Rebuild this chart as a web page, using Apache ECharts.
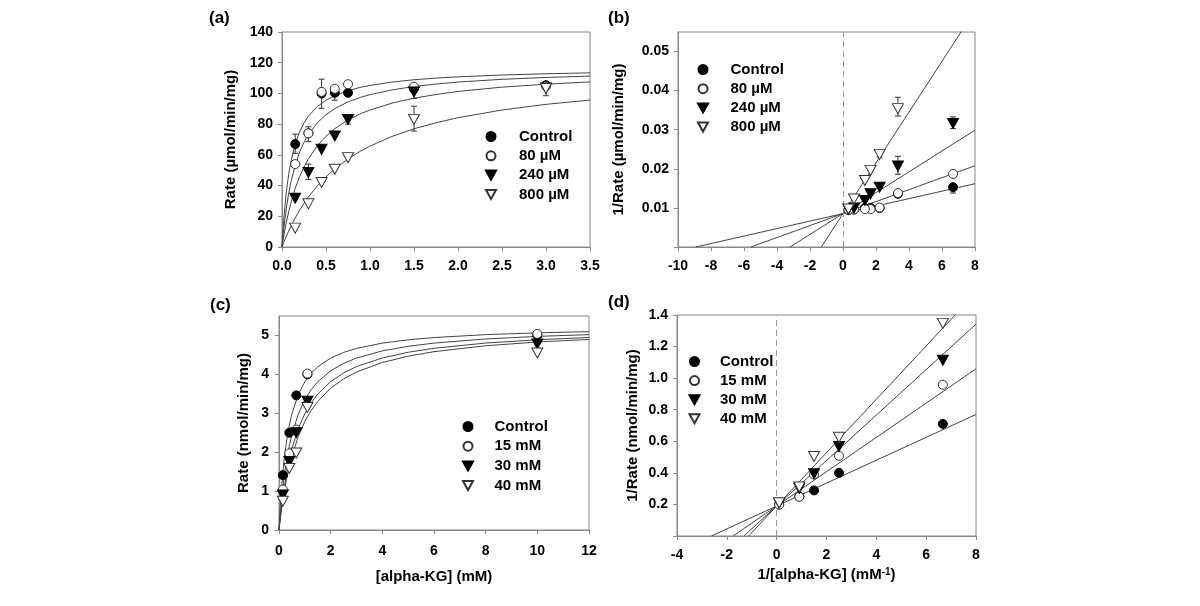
<!DOCTYPE html>
<html><head><meta charset="utf-8">
<script src="https://cdn.jsdelivr.net/npm/echarts@6/dist/echarts.min.js"></script>
<style>html,body{margin:0;padding:0;background:#fff}#c{width:1200px;height:606px}</style>
</head><body><div id="c"></div>
<script>
// ---------- Panel (a): rate vs [substrate], inhibitor µM ----------
const aX = [0.15, 0.3, 0.45, 0.6, 0.75, 1.5, 3.0];
const aControl = [67, 74, 100, 100.4, 100.4, 103, 105.4];
const a80 = [54, 74, 101, 103, 106, 104.3, 104.7];
const a240 = [31.8, 48.5, 63.6, 72.3, 83.1, 101, 103.5];
const a800 = [12.3, 28.1, 42, 50.6, 58.2, 83.1, 103.2];
const aErr = [[0.15, 61, 73.5], [0.3, 68.6, 78.3], [0.45, 90.3, 109.3], [0.6, 95.6, 104], [0.75, 80, 85.9],
  [1.5, 96.7, 104], [1.5, 75.5, 91.7], [3.0, 98.5, 106], [0.3, 44, 54]];
// fitted curves
const aFitX = [0, 0.0125, 0.025, 0.05, 0.075, 0.1, 0.15, 0.2, 0.25, 0.3, 0.4, 0.5, 0.6, 0.75, 0.9, 1.0, 1.25, 1.5, 1.75, 2.0, 2.5, 3.0, 3.5];
const aFitControl = [0, 11.7, 21.4, 36.1, 46.9, 55.2, 67.0, 75.0, 80.8, 85.2, 91.4, 95.6, 98.6, 101.8, 104.1, 105.2, 107.4, 108.9, 110.0, 110.8, 112.0, 112.8, 113.4];
const aFit80 = [0, 7.6, 14.3, 25.5, 34.5, 41.9, 53.3, 61.7, 68.2, 73.3, 80.8, 86.2, 90.1, 94.5, 97.6, 99.2, 102.3, 104.5, 106.1, 107.4, 109.2, 110.4, 111.3];
const aFit240 = [0, 4.5, 8.7, 16.2, 22.7, 28.5, 38.1, 45.8, 52.1, 57.4, 65.8, 72.1, 77.1, 82.7, 87.0, 89.2, 93.7, 96.9, 99.3, 101.3, 104.1, 106.0, 107.5];
const aFit800 = [0, 1.8, 3.6, 7.0, 10.3, 13.3, 18.9, 23.9, 28.4, 32.5, 39.7, 45.7, 50.9, 57.4, 62.7, 65.7, 72.0, 77.0, 80.9, 84.2, 89.2, 92.9, 95.7];

// ---------- Panel (b): double reciprocal ----------
const bX = [6.67, 3.33, 2.22, 1.67, 1.33, 0.67, 0.33];
const bControl = [0.0153, 0.0136, 0.0100, 0.0100, 0.0100, 0.0096, 0.0095];
const b80 = [0.0187, 0.0138, 0.0101, 0.0097, 0.0097, 0.0096, 0.0095];
const b240 = [0.0316, 0.0207, 0.0153, 0.0136, 0.0119, 0.0100, 0.0096];
const b800 = [null, 0.0354, 0.0237, 0.0196, 0.0170, 0.0123, 0.0097];
const bErr = [[3.33, 0.0335, 0.0383], [6.67, 0.0303, 0.0333], [3.33, 0.0186, 0.0232], [2.22, 0.0230, 0.0247], [6.67, 0.0138, 0.0160]];
const bLineX = [[-8.93, 8], [-5.58, 8], [-3.21, 8], [-1.315, 8]];
const bLineY = [[0, 0.0162], [0, 0.0208], [0, 0.0299], [0, 0.0605]];

// ---------- Panel (c): rate vs [alpha-KG] ----------
const cX = [0.15, 0.4, 0.67, 1.1, 10];
const cControl = [1.41, 2.5, 3.46, 4.0, 5.0];
const c15 = [1.04, 1.97, 2.58, 4.02, 5.04];
const c30 = [0.9, 1.76, 2.5, 3.31, 4.78];
const c40 = [0.74, 1.58, 1.98, 3.15, 4.55];
const cFitX = [0, 0.0125, 0.025, 0.05, 0.1, 0.15, 0.2, 0.3, 0.4, 0.5, 0.75, 1, 1.25, 1.5, 2, 2.5, 3, 4, 5, 6, 8, 10, 12];
const cFitControl = [0, 0.167, 0.324, 0.610, 1.094, 1.486, 1.811, 2.317, 2.694, 2.985, 3.488, 3.809, 4.031, 4.195, 4.418, 4.564, 4.667, 4.803, 4.888, 4.946, 5.021, 5.067, 5.098];
const cFit15 = [0, 0.113, 0.221, 0.424, 0.784, 1.094, 1.364, 1.812, 2.167, 2.456, 2.986, 3.348, 3.611, 3.810, 4.092, 4.282, 4.419, 4.603, 4.721, 4.803, 4.910, 4.976, 5.021];
const cFit30 = [0, 0.085, 0.168, 0.325, 0.613, 0.869, 1.098, 1.491, 1.817, 2.091, 2.616, 2.992, 3.274, 3.494, 3.814, 4.036, 4.199, 4.422, 4.568, 4.670, 4.805, 4.889, 4.948];
const cFit40 = [0, 0.073, 0.144, 0.281, 0.533, 0.761, 0.968, 1.329, 1.635, 1.896, 2.410, 2.787, 3.077, 3.305, 3.644, 3.883, 4.060, 4.305, 4.467, 4.583, 4.735, 4.831, 4.898];

// ---------- Panel (d): double reciprocal ----------
const dX = [6.67, 2.5, 1.5, 0.91, 0.1];
const dControl = [0.71, 0.40, 0.289, 0.25, 0.2];
const d15 = [0.958, 0.508, 0.39, 0.249, 0.198];
const d30 = [1.113, 0.567, 0.395, 0.302, 0.208];
const d40 = [1.347, 0.625, 0.504, 0.31, 0.21];
const dLineX = [[-2.62, 8], [-1.75, 8], [-1.32, 8], [-1.125, 8]];
const dLineY = [[0, 0.77], [0, 1.059], [0, 1.342], [0, 1.542]];

const namesAB = ['Control', '80 µM', '240 µM', '800 µM'];
const namesCD = ['Control', '15 mM', '30 mM', '40 mM'];

// ---------- styling ----------
const FONT = 'Liberation Sans, Arial, sans-serif';
const TRI = 'path://M0,0 L10,0 L5,9 Z';
const markerStyles = [
  { symbol: 'circle', symbolSize: 9, itemStyle: { color: '#000', borderColor: '#000', borderWidth: 1, opacity: 1 } },
  { symbol: 'circle', symbolSize: 9, itemStyle: { color: '#fff', borderColor: '#333', borderWidth: 1, opacity: 1 } },
  { symbol: TRI, symbolSize: [11, 10], itemStyle: { color: '#000', borderColor: '#000', borderWidth: 1, opacity: 1 } },
  { symbol: TRI, symbolSize: [11, 10], itemStyle: { color: '#fff', borderColor: '#333', borderWidth: 1, opacity: 1 } }
];
const zip = (xs, ys) => xs.map((x, i) => [x, ys[i]]).filter(p => p[1] != null);

function axisBase(extra) {
  return Object.assign({
    type: 'value',
    axisLine: { show: true, onZero: false, lineStyle: { color: '#888', width: 1 } },
    axisTick: { show: true, inside: false, length: 4, lineStyle: { color: '#888' } },
    splitLine: { show: false },
    axisLabel: { color: '#000', fontFamily: FONT, fontWeight: 'bold', fontSize: 14 },
    nameLocation: 'middle',
    nameTextStyle: { color: '#000', fontFamily: FONT, fontWeight: 'bold', fontSize: 15 }
  }, extra);
}
const lbl = extra => Object.assign({}, axisBase().axisLabel, extra);
const onGrid = (step, digits, hideZero) => v => {
  const k = v / step;
  if (Math.abs(k - Math.round(k)) > 1e-6) return '';
  if (hideZero && Math.abs(v) < 1e-12) return '';
  return v.toFixed(digits);
};

const grids = [
  { left: 282, top: 32, width: 308, height: 215 },
  { left: 678, top: 32, width: 297, height: 215 },
  { left: 279, top: 316, width: 310, height: 214 },
  { left: 677, top: 315, width: 299, height: 221 }
].map(g => Object.assign(g, { show: true, borderColor: '#888', borderWidth: 1, backgroundColor: 'transparent' }));

const xAxes = [
  axisBase({ gridIndex: 0, min: 0, max: 3.5, interval: 0.5, axisLabel: lbl({ margin: 12, formatter: onGrid(0.5, 1) }) }),
  axisBase({ gridIndex: 1, min: -10, max: 8, interval: 2, axisLabel: lbl({ margin: 12, formatter: onGrid(2, 0) }) }),
  axisBase({ gridIndex: 2, min: 0, max: 12, interval: 2, name: '[alpha-KG] (mM)', nameGap: 39, axisLabel: lbl({ margin: 14, formatter: onGrid(2, 0) }) }),
  axisBase({ gridIndex: 3, min: -4, max: 8, interval: 2, name: '1/[alpha-KG] (mM{sup|-1})', nameGap: 31,
    nameTextStyle: { color: '#000', fontFamily: FONT, fontWeight: 'bold', fontSize: 15, rich: { sup: { fontSize: 10, fontWeight: 'bold', fontFamily: FONT, verticalAlign: 'top' } } },
    axisLabel: lbl({ margin: 12, formatter: onGrid(2, 0) }) })
];
const yAxes = [
  axisBase({ gridIndex: 0, min: 0, max: 140, interval: 20, name: 'Rate (µmol/min/mg)', nameGap: 44, axisLabel: lbl({ margin: 9, formatter: onGrid(20, 0) }) }),
  axisBase({ gridIndex: 1, min: 0, max: 0.055, interval: 0.01, name: '1/Rate (µmol/min/mg)', nameGap: 52, axisLabel: lbl({ margin: 9, showMaxLabel: false, formatter: onGrid(0.01, 2, true) }) }),
  axisBase({ gridIndex: 2, min: 0, max: 5.5, interval: 1, name: 'Rate (nmol/min/mg)', nameGap: 28, axisLabel: lbl({ margin: 10, showMaxLabel: false, formatter: onGrid(1, 0) }) }),
  axisBase({ gridIndex: 3, min: 0, max: 1.4, interval: 0.2, name: '1/Rate (nmol/min/mg)', nameGap: 37, axisLabel: lbl({ margin: 9, formatter: onGrid(0.2, 1, true) }) })
];

const series = [];
function fitLine(idx, xs, ys) {
  series.push({ type: 'line', name: '_fit', xAxisIndex: idx, yAxisIndex: idx, data: zip(xs, ys), showSymbol: false, symbol: 'none',
    smooth: false, lineStyle: { color: '#444', width: 1 }, silent: true, z: 2, clip: true });
}
function errBars(idx, arr) {
  series.push({ type: 'custom', name: '_err', xAxisIndex: idx, yAxisIndex: idx, data: arr, z: 3, silent: true, clip: true,
    encode: { x: 0, y: [1, 2] },
    renderItem: (params, api) => {
      const x = api.value(0), lo = api.value(1), hi = api.value(2);
      const p1 = api.coord([x, hi]), p2 = api.coord([x, lo]);
      const w = 3, st = { stroke: '#333', lineWidth: 1 };
      return { type: 'group', children: [
        { type: 'line', shape: { x1: p1[0], y1: p1[1], x2: p2[0], y2: p2[1] }, style: st },
        { type: 'line', shape: { x1: p1[0] - w, y1: p1[1], x2: p1[0] + w, y2: p1[1] }, style: st },
        { type: 'line', shape: { x1: p2[0] - w, y1: p2[1], x2: p2[0] + w, y2: p2[1] }, style: st }
      ] };
    } });
}
function scatter(idx, name, k, xs, ys) {
  series.push(Object.assign({ type: 'scatter', name, xAxisIndex: idx, yAxisIndex: idx, data: zip(xs, ys), z: 5 + k, clip: true }, markerStyles[k]));
}
function vline(idx) {
  series.push({ type: 'line', name: '_v', xAxisIndex: idx, yAxisIndex: idx, data: [], silent: true,
    markLine: { silent: true, symbol: ['none', 'none'], label: { show: false }, lineStyle: { color: '#999', type: [6, 4], width: 1 }, data: [{ xAxis: 0 }] } });
}

// Panel a
[aFitControl, aFit80, aFit240, aFit800].forEach(ys => fitLine(0, aFitX, ys));
errBars(0, aErr);
[aControl, a80, a240, a800].forEach((ys, k) => scatter(0, namesAB[k], k, aX, ys));
// Panel b
vline(1);
bLineX.forEach((xs, i) => fitLine(1, xs, bLineY[i]));
errBars(1, bErr);
[bControl, b80, b240, b800].forEach((ys, k) => scatter(1, namesAB[k], k, bX, ys));
// Panel c
[cFitControl, cFit15, cFit30, cFit40].forEach(ys => fitLine(2, cFitX, ys));
[cControl, c15, c30, c40].forEach((ys, k) => scatter(2, namesCD[k], k, cX, ys));
// Panel d
vline(3);
dLineX.forEach((xs, i) => fitLine(3, xs, dLineY[i]));
[dControl, d15, d30, d40].forEach((ys, k) => scatter(3, namesCD[k], k, dX, ys));

function legend(names, left, top, gap, pad) {
  return { data: names, orient: 'vertical', left, top, padding: 0, itemWidth: 10, itemHeight: 9, itemGap: gap,
    selectedMode: false, textStyle: { color: '#000', fontFamily: FONT, fontWeight: 'bold', fontSize: 15, padding: [0, 0, 0, pad] } };
}
const legends = [
  legend(namesAB, 485, 129, 4.3, 18),
  legend(namesAB, 697, 62, 4.2, 17.5),
  legend(namesCD, 462, 419, 4.7, 16.5),
  legend(namesCD, 688.5, 354, 4.1, 15.5)
];

const titleStyle = { color: '#000', fontFamily: FONT, fontWeight: 'bold', fontSize: 17 };
const titles = [['(a)', 209, 10], ['(b)', 608, 10], ['(c)', 210, 297], ['(d)', 608, 294]]
  .map(t => ({ text: t[0], left: t[1], top: t[2], padding: 0, textStyle: titleStyle }));

const chart = echarts.init(document.getElementById('c'), null, { renderer: 'canvas' });
chart.setOption({
  animation: false,
  backgroundColor: '#fff',
  title: titles,
  legend: legends,
  grid: grids,
  xAxis: xAxes,
  yAxis: yAxes,
  series
});
</script></body></html>
